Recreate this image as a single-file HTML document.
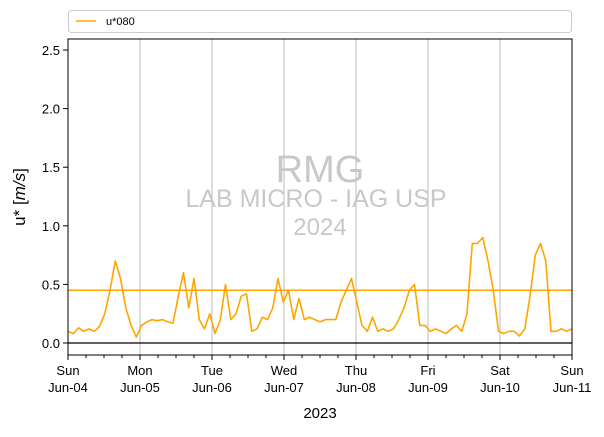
<!DOCTYPE html>
<html><head><meta charset="utf-8"><style>
body{margin:0;background:#fff;font-family:"Liberation Sans","DejaVu Sans",sans-serif}
svg text{font-family:"Liberation Sans","DejaVu Sans",sans-serif}
</style></head><body>
<svg id="c" width="604" height="432" xmlns="http://www.w3.org/2000/svg">
<rect x="0" y="0" width="604" height="432" fill="#fff"/>
<g id="grid"></g>
<g id="wm" fill="#c8c8c8" text-anchor="middle">
<text x="320" y="182" font-size="38">RMG</text>
<text x="316" y="207" font-size="25">LAB MICRO - IAG USP</text>
<text x="320" y="235" font-size="24">2024</text>
</g>
<g id="series"></g>
<rect x="68" y="39" width="504" height="316" fill="none" stroke="#000" stroke-width="1"/>
<g id="axes"></g>
<g>
<rect x="68.5" y="10.5" width="503" height="22" rx="3" fill="#fff" stroke="#ccc"/>
<line x1="76" y1="21" x2="96" y2="21" stroke="#ffa500" stroke-width="1.5"/>
<text x="106" y="25" font-size="11">u*080</text>
</g>
<text x="320" y="418" font-size="15" text-anchor="middle">2023</text>
<text transform="translate(25,197) rotate(-90)" font-size="17" text-anchor="middle">u* [<tspan font-style="italic">m/s</tspan>]</text>
</svg>
<script>
const dayLabels=["Sun","Mon","Tue","Wed","Thu","Fri","Sat","Sun"];
const dateLabels=["Jun-04","Jun-05","Jun-06","Jun-07","Jun-08","Jun-09","Jun-10","Jun-11"];
const yTicks=[0,0.5,1,1.5,2,2.5];
const meanValue=0.45;
// u* values every 2 hours from Jun-04 00:00
const ustar=[0.1,0.08,0.13,0.1,0.12,0.1,0.14,0.25,0.45,0.7,0.55,0.3,
0.15,0.05,0.15,0.18,0.2,0.19,0.2,0.18,0.17,0.4,0.6,0.3,
0.55,0.2,0.12,0.25,0.08,0.2,0.5,0.2,0.25,0.4,0.42,0.1,
0.12,0.22,0.2,0.3,0.55,0.35,0.45,0.2,0.38,0.2,0.22,0.2,
0.18,0.2,0.2,0.2,0.35,0.45,0.55,0.35,0.15,0.1,0.22,0.1,
0.12,0.1,0.12,0.2,0.3,0.45,0.5,0.15,0.15,0.1,0.12,0.1,
0.08,0.12,0.15,0.1,0.25,0.85,0.85,0.9,0.7,0.45,0.1,0.08,
0.1,0.1,0.06,0.12,0.4,0.75,0.85,0.7,0.1,0.1,0.12,0.1,0.12];
const X0=68,X1=572,Y0v=343,PX=117.2;
const xs=i=>X0+(X1-X0)*i/(ustar.length-1);
const xd=d=>X0+(X1-X0)*d/7;
const ys=v=>Y0v-v*PX;
const NS="http://www.w3.org/2000/svg";
function mk(t,a,p){const e=document.createElementNS(NS,t);for(const k in a)e.setAttribute(k,a[k]);p.appendChild(e);return e;}
const grid=document.getElementById('grid'),axes=document.getElementById('axes'),ser=document.getElementById('series');
dayLabels.forEach((d,i)=>{
 const x=xd(i);
 if(i>0&&i<7){const g=mk('line',{x1:x,y1:39,x2:x,y2:355,stroke:'#bbb','stroke-width':1},grid);
 
 }
 const t=mk('line',{x1:x,y1:355,x2:x,y2:360,stroke:'#000'},axes);
 
 
 const l=mk('text',{x:x,y:375,'font-size':13,'text-anchor':'middle'},axes);
 
 
 mk('tspan',{x:x},l).textContent=d;
 mk('tspan',{x:x,dy:17},l).textContent=dateLabels[i];
 if(i<7)for(let k=1;k<4;k++){const m=mk('line',{x1:x+k*18,y1:355,x2:x+k*18,y2:358,stroke:'#000'},axes);
 
 }
});
yTicks.forEach(v=>{
 const y=ys(v);
 const t=mk('line',{x1:63,y1:y,x2:68,y2:y,stroke:'#000'},axes);
 
 
 const l=mk('text',{x:60,y:y+5,'font-size':13,'text-anchor':'end'},axes);
 
 
 l.textContent=v.toFixed(1);
});
const z=mk('line',{x1:68,y1:ys(0),x2:572,y2:ys(0),stroke:'#000','stroke-width':1.2},ser);


const mn=mk('line',{x1:68,y1:ys(meanValue),x2:572,y2:ys(meanValue),stroke:'#ffa500','stroke-width':1.6},ser);


const p=mk('path',{d:ustar.map((v,i)=>(i?'L':'M')+xs(i).toFixed(1)+','+ys(v).toFixed(1)).join(''),fill:'none',stroke:'#ffa500','stroke-width':1.6,'stroke-linejoin':'round'},ser);


</script>
</body></html>
